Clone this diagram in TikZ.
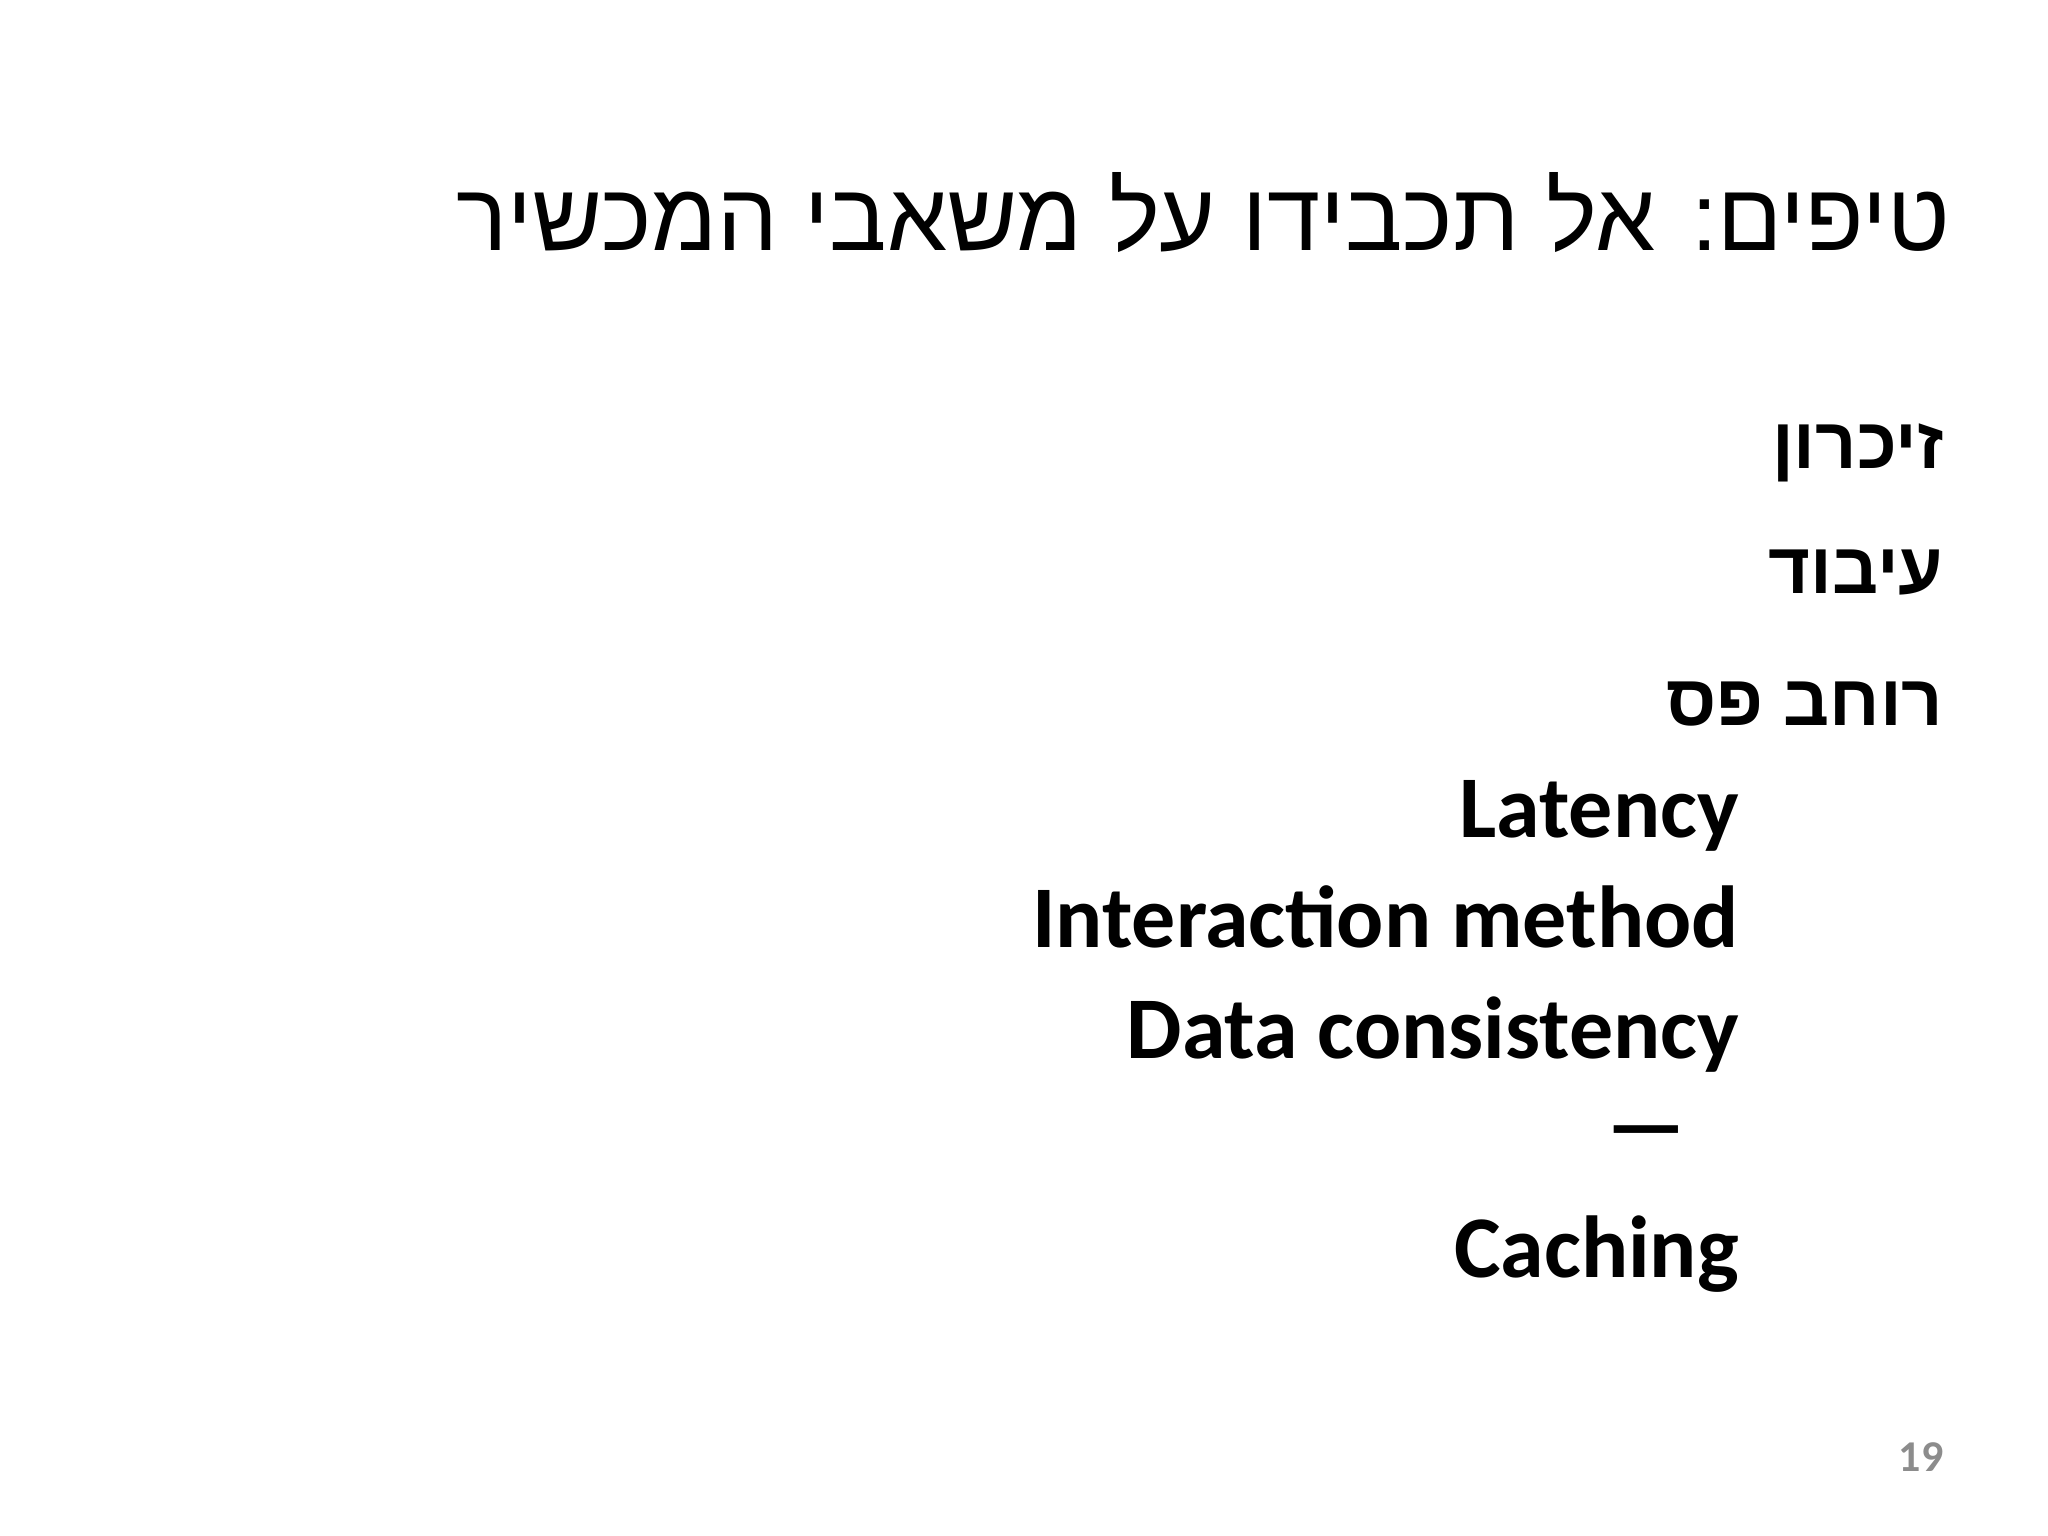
\documentclass[tikz,border=0pt]{standalone}
\usepackage{fontspec}
\setmainfont{Carlito}
\newfontfamily\hebfont[Script=Hebrew]{Liberation Sans}
\TeXXeTstate=1
\begin{document}
\begin{tikzpicture}[x=0.66pt,y=-0.66pt,
  heb/.style={anchor=base east,inner sep=0,font=\hebfont\fontsize{36}{40}\selectfont\bfseries},
  lat/.style={anchor=base east,inner sep=0,font=\fontsize{44}{50}\selectfont\bfseries}]
\useasboundingbox[fill=white] (0,0) rectangle (1552,1164);
\node[anchor=base east,inner sep=0,font=\hebfont\fontsize{48}{54}\selectfont] (t) at (1478,190) {\beginR טיפים: אל תכבידו על משאבי המכשיר\endR};
\node[heb] (a) at (1473,355) {\beginR זיכרון\endR};
\node[heb] (b) at (1473,450) {\beginR עיבוד\endR};
\node[heb] (c) at (1473,550) {\beginR רוחב פס\endR};
\node[lat] (d) at (1318,635) {Latency};
\node[lat] (e) at (1318,718) {Interaction method};
\node[lat] (f) at (1318,802) {Data consistency};
\node[lat] (g) at (1278,875) {---};
\node[lat] (h) at (1318,968) {Caching};
\node[anchor=base east,inner sep=0,text=black!45,font=\fontsize{22}{24}\selectfont\bfseries] (n) at (1473,1115) {19};
\end{tikzpicture}
\end{document}
